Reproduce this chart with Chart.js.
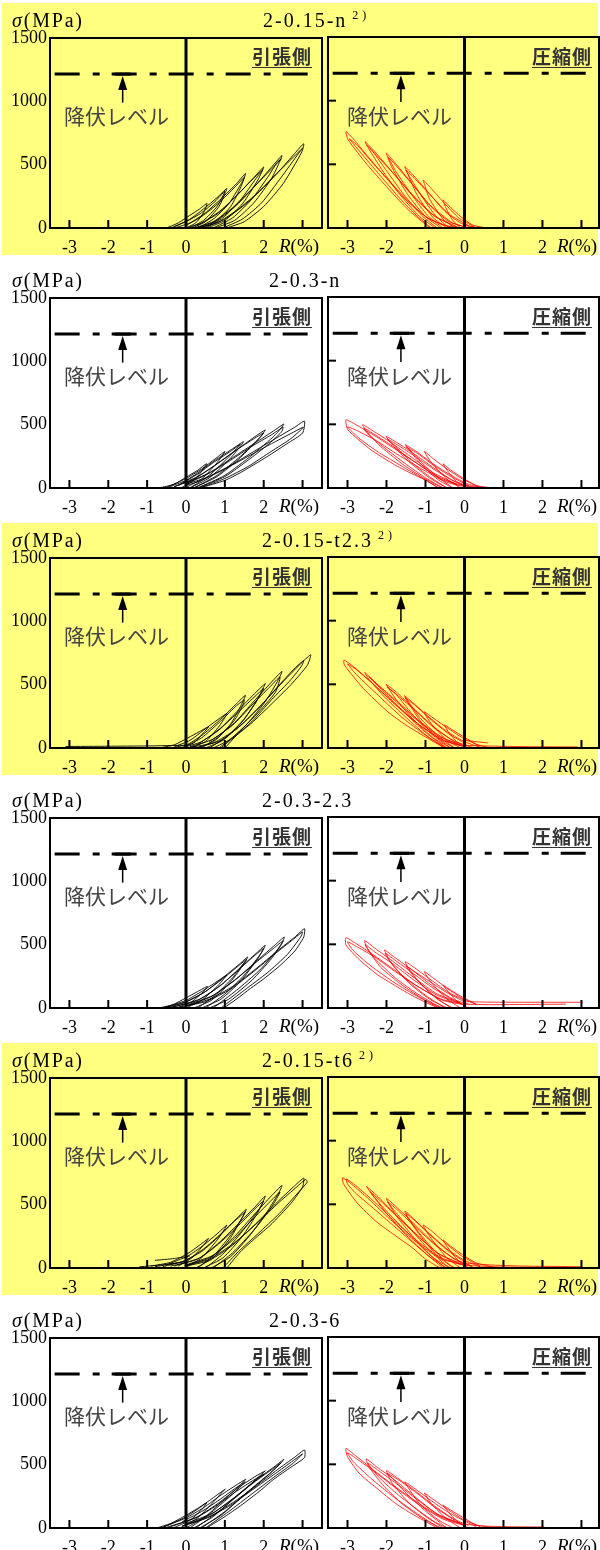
<!DOCTYPE html>
<html>
<head>
<meta charset="utf-8">
<script src="https://cdn.jsdelivr.net/npm/chart.js@4.4.1/dist/chart.umd.min.js"></script>
<style>
  body { margin: 0; background: #fff; }
  #page { position: relative; width: 600px; height: 1550px; overflow: hidden; font-family: "Liberation Serif", serif; }
  .band { position: absolute; left: 2px; width: 596px; height: 252px; background: #ffff80; }
  canvas { position: absolute; }
  .txt { position: absolute; white-space: nowrap; color: #000; }
  .ttl { font-size: 20px; line-height: 22px; letter-spacing: 2px; }
  .ttl .note { font-size: 12px; position: relative; top: -8px; margin-left: 5px; letter-spacing: 4px; }
  .unit { font-size: 20px; line-height: 22px; letter-spacing: 1.8px; }
  .rlab { font-size: 19px; line-height: 22px; }
  .side { font-family: "Noto Sans CJK JP", sans-serif; font-weight: bold; font-size: 19px; line-height: 22px; letter-spacing: 1px; text-decoration: underline; text-underline-offset: 3px; color: #333; }
  .yld { font-family: "Noto Sans CJK JP", sans-serif; font-size: 21px; line-height: 24px; color: #444; }
</style>
</head>
<body>
<div id="page"></div>
<script>
// axes
var xTicks = [-3, -2, -1, 0, 1, 2, 3];
var yTicks = [0, 500, 1000, 1500];
var yieldLevel = 1215;          // 降伏レベル (MPa)
var yieldSpan = [-3.38, 3.45];
var arrowR = -1.63, arrowTail = 990;

var titles = ['2-0.15-n', '2-0.3-n', '2-0.15-t2.3', '2-0.3-2.3', '2-0.15-t6', '2-0.3-6'];
var titleNote = [true, false, true, false, true, false];
var titleLeft = [263, 269, 262, 262, 262, 269];

// loops: flat [R, sigma, R, sigma, ...]
var tension1 = [
  [0.0,0, 0.25,40, 0.45,120, 0.54,194, 0.35,150, 0.1,100, -0.2,40, -0.5,0],
  [0.15,0, 0.5,50, 0.85,170, 1.0,270, 1.05,312, 0.8,240, 0.45,150, 0.1,70, -0.3,10],
  [0.35,0, 0.75,50, 1.15,170, 1.42,330, 1.53,430, 1.3,350, 0.9,230, 0.5,120, 0.1,40, -0.3,0],
  [0.55,0, 1.0,60, 1.45,190, 1.85,380, 2.0,482, 1.75,400, 1.35,270, 0.9,140, 0.4,40, 0,0],
  [0.75,0, 1.25,60, 1.75,200, 2.2,390, 2.42,530, 2.47,573, 2.2,480, 1.8,340, 1.3,180, 0.8,60, 0.3,0],
  [1.05,0, 1.5,50, 2.0,170, 2.5,350, 2.98,600, 3.03,665, 2.8,590, 2.4,450, 2.0,320, 1.5,180, 1.0,70, 0.5,10],
  [0.95,0, 1.45,70, 1.95,200, 2.45,400, 2.9,590, 3.0,630, 2.7,540, 2.3,420, 1.85,280, 1.35,150, 0.8,40, 0.3,0],
  [0.7,0, 1.2,80, 1.7,230, 2.1,400, 2.35,520, 2.45,545, 2.15,450, 1.7,310, 1.2,160, 0.7,50, 0.2,0],
  [0.5,0, 0.95,80, 1.4,220, 1.8,390, 1.98,460, 1.7,380, 1.25,240, 0.8,110, 0.3,20],
  [0.3,0, 0.7,70, 1.1,190, 1.4,340, 1.5,400, 1.25,320, 0.85,200, 0.4,90, 0,20],
  [0.1,0, 0.45,60, 0.8,170, 1.0,290, 0.75,210, 0.4,120, 0,50, -0.4,0]
];
var compression1 = [
  [-0.1,0, -0.3,60, -0.48,160, -0.55,220, -0.35,160, -0.1,90, 0.2,25, 0.55,0],
  [-0.25,0, -0.55,70, -0.9,230, -1.02,340, -1.06,377, -0.85,310, -0.5,190, -0.15,80, 0.25,10],
  [-0.45,0, -0.8,80, -1.2,250, -1.45,420, -1.53,482, -1.3,410, -0.9,270, -0.5,130, -0.1,40, 0.3,0],
  [-0.6,0, -1.0,90, -1.45,260, -1.85,470, -2.0,587, -1.75,500, -1.35,350, -0.9,180, -0.4,50, 0,10],
  [-0.75,0, -1.15,90, -1.65,260, -2.1,450, -2.45,620, -2.55,678, -2.3,600, -1.85,440, -1.35,260, -0.8,100, -0.2,10],
  [-0.88,0, -1.14,63, -1.5,160, -2.0,325, -2.5,500, -2.98,691, -3.04,757, -2.85,700, -2.5,570, -2.0,390, -1.5,220, -1.0,90, -0.5,20, 0,0],
  [-0.85,0, -1.2,90, -1.65,230, -2.1,390, -2.6,570, -2.95,700, -2.75,650, -2.35,510, -1.9,360, -1.4,200, -0.9,70, -0.3,0],
  [-0.7,0, -1.1,100, -1.55,260, -2.0,450, -2.35,600, -2.5,650, -2.25,570, -1.8,420, -1.3,250, -0.75,90, -0.15,0],
  [-0.55,0, -0.95,100, -1.35,260, -1.75,440, -1.95,555, -1.7,470, -1.3,330, -0.85,170, -0.3,40, 0.1,0],
  [-0.4,0, -0.75,100, -1.1,250, -1.4,400, -1.5,455, -1.25,380, -0.85,250, -0.4,110, 0.1,20],
  [0,20, 0.25,8, 0.6,0]
];
var tension2 = [
  [-0.1,5, 0.2,60, 0.45,150, 0.53,192, 0.3,140, 0,85, -0.3,30, -0.7,0],
  [0,5, 0.4,70, 0.8,200, 1.0,288, 0.75,230, 0.4,150, 0,75, -0.5,5],
  [0.1,0, 0.6,80, 1.1,220, 1.4,330, 1.48,366, 1.2,310, 0.8,230, 0.35,130, 0,60, -0.5,0],
  [0.2,0, 0.8,90, 1.4,240, 1.9,400, 2.04,458, 1.75,400, 1.3,300, 0.8,190, 0.3,90, -0.3,10],
  [0.3,0, 1.0,100, 1.7,260, 2.3,420, 2.52,505, 2.25,450, 1.8,360, 1.2,240, 0.6,120, 0,40],
  [0.36,0, 1.0,60, 1.4,121, 2.09,248, 2.6,350, 3.0,434, 3.05,528, 2.8,480, 2.3,390, 1.7,280, 1.1,170, 0.5,80, 0,30],
  [0.35,0, 1.0,75, 1.6,170, 2.2,290, 2.7,390, 3.02,480, 2.7,430, 2.2,350, 1.6,250, 1.0,150, 0.4,60, 0,20],
  [0.3,0, 1.0,90, 1.6,220, 2.1,340, 2.45,440, 2.5,480, 2.2,420, 1.7,330, 1.1,210, 0.5,100, 0,35],
  [0.2,0, 0.8,100, 1.4,250, 1.85,380, 2.0,435, 1.7,380, 1.2,280, 0.7,170, 0.2,70, -0.3,10],
  [0.1,0, 0.6,100, 1.05,230, 1.4,345, 1.15,290, 0.7,200, 0.3,110, -0.2,20]
];
var compression2 = [
  [0.1,0, -0.2,50, -0.45,140, -0.55,190, -0.35,140, -0.05,80, 0.3,20, 0.7,0],
  [-0.1,0, -0.45,70, -0.85,200, -1.03,288, -0.8,230, -0.45,150, -0.05,70, 0.4,5],
  [-0.3,0, -0.7,70, -1.15,200, -1.45,310, -1.52,340, -1.25,290, -0.85,200, -0.4,110, 0.1,30, 0.5,0],
  [-0.45,0, -0.9,80, -1.4,200, -1.85,340, -2.01,405, -1.75,360, -1.3,270, -0.8,160, -0.3,60, 0.2,5],
  [-0.55,0, -1.0,70, -1.6,190, -2.2,340, -2.55,460, -2.61,497, -2.35,450, -1.9,360, -1.35,240, -0.8,120, -0.2,30],
  [-0.68,0, -0.94,53, -1.4,120, -1.8,184, -2.4,300, -2.99,457, -3.04,536, -2.8,500, -2.3,410, -1.8,310, -1.2,190, -0.6,70, 0,15],
  [-0.65,0, -1.1,80, -1.6,170, -2.2,280, -2.7,390, -3.0,480, -2.75,450, -2.25,370, -1.7,260, -1.1,150, -0.5,50, 0,10],
  [-0.55,0, -1.05,90, -1.6,210, -2.15,340, -2.5,430, -2.58,470, -2.3,420, -1.85,330, -1.3,210, -0.75,100, -0.15,20],
  [-0.45,0, -0.9,90, -1.35,200, -1.75,320, -1.98,385, -1.7,335, -1.25,245, -0.75,140, -0.25,50, 0.2,0],
  [-0.3,0, -0.7,90, -1.1,200, -1.4,300, -1.5,325, -1.2,270, -0.8,180, -0.35,90, 0.1,20],
  [0,20, 0.4,6, 0.93,2]
];
var tension3 = [
  [-0.1,5, 0.2,40, 0.45,120, 0.58,167, 0.35,130, 0.05,80, -0.3,25, -0.6,5],
  [0.1,0, 0.5,50, 0.85,170, 1.0,240, 1.05,272, 0.8,220, 0.45,140, 0.1,60, -0.3,10],
  [0.3,0, 0.75,60, 1.15,190, 1.42,340, 1.53,416, 1.3,350, 0.9,230, 0.45,110, 0.05,30, -0.3,5],
  [0.5,0, 0.95,60, 1.4,190, 1.8,360, 1.98,470, 2.04,508, 1.8,440, 1.35,300, 0.9,160, 0.4,50, 0,10],
  [0.7,0, 1.15,70, 1.6,200, 2.05,370, 2.38,540, 2.47,605, 2.2,520, 1.75,370, 1.25,200, 0.7,70, 0.1,10],
  [0.9,0, 1.25,90, 1.7,210, 2.2,380, 2.7,540, 2.98,650, 3.03,691, 2.8,630, 2.35,480, 1.85,310, 1.3,150, 0.7,40, 0.1,5],
  [1.0,0, 1.31,102, 1.7,200, 2.17,338, 2.7,500, 3.12,652, 3.21,736, 3.0,680, 2.55,540, 2.0,360, 1.45,190, 0.9,60, 0.3,5],
  [0.85,0, 1.3,110, 1.8,260, 2.3,440, 2.42,560, 2.15,480, 1.7,340, 1.2,180, 0.6,50],
  [0.6,0, 1.05,90, 1.5,230, 1.85,390, 2.0,470, 1.75,400, 1.3,270, 0.8,130, 0.3,30],
  [0.4,0, 0.85,90, 1.25,220, 1.45,330, 1.5,380, 1.25,320, 0.85,200, 0.4,80, 0,15],
  [-3.1,12, -2.0,14, -1.0,16, 0,22]
];
var compression3 = [
  [0.1,0, -0.2,50, -0.42,130, -0.51,181, -0.3,140, 0,85, 0.3,30, 0.6,5],
  [-0.1,0, -0.45,60, -0.85,190, -1.0,260, -1.03,285, -0.8,235, -0.45,160, -0.05,80, 0.4,15],
  [-0.25,0, -0.65,70, -1.1,200, -1.45,360, -1.54,411, -1.3,350, -0.9,240, -0.45,130, 0,50, 0.4,5],
  [-0.35,0, -0.8,80, -1.3,220, -1.75,380, -1.95,470, -2.01,500, -1.75,440, -1.3,310, -0.8,170, -0.3,60, 0.2,5],
  [-0.45,0, -0.9,80, -1.5,240, -2.05,400, -2.45,540, -2.56,594, -2.3,520, -1.85,390, -1.3,240, -0.7,100, -0.1,20],
  [-0.51,0, -0.94,76, -1.5,180, -1.97,285, -2.6,470, -3.08,652, -3.09,691, -2.85,640, -2.4,520, -1.85,360, -1.2,190, -0.6,70, 0,10],
  [-0.5,0, -1.0,100, -1.6,240, -2.2,410, -2.75,570, -3.0,660, -2.75,610, -2.3,490, -1.75,340, -1.15,180, -0.55,60, 0,10],
  [-0.45,0, -0.95,110, -1.55,280, -2.1,450, -2.45,560, -2.2,490, -1.7,360, -1.15,210, -0.55,80, 0,15],
  [-0.35,0, -0.85,110, -1.35,270, -1.75,420, -1.98,480, -1.7,410, -1.25,290, -0.75,150, -0.2,40],
  [-0.25,0, -0.7,100, -1.15,240, -1.45,370, -1.52,395, -1.25,330, -0.85,220, -0.4,110, 0.05,30],
  [0,60, 0.3,50, 0.6,40],
  [0,20, 0.8,14, 1.8,10, 2.9,9]
];
var tension4 = [
  [-0.2,5, 0.15,50, 0.45,130, 0.55,170, 0.3,130, 0,80, -0.35,25, -0.7,0],
  [0.0,0, 0.4,60, 0.8,170, 1.0,240, 1.05,259, 0.8,210, 0.4,130, 0,60, -0.6,0],
  [0.2,0, 0.65,60, 1.1,190, 1.45,330, 1.59,403, 1.35,340, 0.95,240, 0.5,130, 0,50, -0.6,0],
  [0.4,0, 0.9,70, 1.4,210, 1.85,390, 2.04,495, 1.8,430, 1.4,320, 0.9,180, 0.35,70, -0.4,0],
  [0.6,0, 1.1,70, 1.7,220, 2.2,390, 2.45,500, 2.53,560, 2.3,500, 1.85,380, 1.3,230, 0.7,100, 0,20],
  [0.97,0, 1.3,70, 1.66,155, 2.0,230, 2.43,338, 2.8,450, 3.03,560, 3.05,626, 2.8,560, 2.35,450, 1.8,310, 1.2,170, 0.6,70, 0,15],
  [0.9,0, 1.5,140, 2.1,280, 2.6,420, 2.95,560, 3.0,600, 2.75,540, 2.3,430, 1.75,290, 1.15,150, 0.5,50, -0.2,5],
  [0.7,0, 1.3,140, 1.9,300, 2.35,460, 2.5,530, 2.25,470, 1.8,360, 1.25,220, 0.65,90, 0,15],
  [0.5,0, 1.0,110, 1.5,260, 1.9,420, 2.0,470, 1.75,410, 1.35,300, 0.85,170, 0.3,60, -0.4,5],
  [0.3,0, 0.75,100, 1.2,240, 1.5,360, 1.56,385, 1.3,320, 0.9,220, 0.45,120, -0.05,40, -0.6,0]
];
var compression4 = [
  [0.1,0, -0.2,55, -0.45,140, -0.55,180, -0.35,140, -0.05,85, 0.3,30],
  [-0.1,0, -0.45,70, -0.85,200, -1.03,285, -0.8,235, -0.45,155, -0.05,75, 0.3,30],
  [-0.3,0, -0.7,70, -1.15,200, -1.45,320, -1.52,364, -1.3,320, -0.9,230, -0.45,130, 0,60],
  [-0.45,0, -0.9,70, -1.4,190, -1.85,340, -2.0,420, -2.05,456, -1.8,400, -1.35,300, -0.85,180, -0.3,70, 0.1,30],
  [-0.55,0, -1.0,60, -1.6,180, -2.15,320, -2.5,470, -2.56,529, -2.3,470, -1.85,370, -1.3,240, -0.7,110, -0.1,40],
  [-0.68,0, -1.0,45, -1.37,102, -1.8,180, -2.22,259, -2.7,380, -3.04,495, -3.04,552, -2.8,510, -2.35,420, -1.8,300, -1.2,170, -0.6,70, 0,30],
  [-0.65,0, -1.2,90, -1.8,200, -2.4,330, -2.85,450, -3.0,520, -2.75,480, -2.3,400, -1.75,280, -1.15,160, -0.55,60, 0,25],
  [-0.6,0, -1.15,100, -1.75,230, -2.3,390, -2.55,500, -2.3,440, -1.85,350, -1.3,220, -0.7,100, -0.1,35],
  [-0.5,0, -1.0,100, -1.55,240, -1.95,380, -2.03,430, -1.8,380, -1.35,280, -0.85,165, -0.3,65],
  [-0.35,0, -0.8,100, -1.25,230, -1.5,330, -1.3,290, -0.9,210, -0.45,120, 0,50],
  [0,50, 0.6,46, 1.5,45, 2.4,45, 3.03,45],
  [0,30, 0.7,26, 1.6,28, 2.6,30]
];
var tension5 = [
  [-0.2,15, 0.15,80, 0.45,180, 0.58,233, 0.35,180, 0.05,115, -0.4,45, -0.9,15],
  [0.0,5, 0.4,80, 0.8,220, 1.0,310, 1.05,338, 0.8,270, 0.45,180, 0.05,95, -0.5,25],
  [0.25,0, 0.7,80, 1.15,240, 1.45,400, 1.55,463, 1.3,390, 0.9,270, 0.45,150, 0,60, -0.6,10],
  [0.45,0, 0.95,80, 1.45,250, 1.85,440, 2.04,568, 1.8,490, 1.35,350, 0.85,200, 0.35,80, -0.3,15],
  [0.65,0, 1.15,90, 1.65,260, 2.1,450, 2.4,600, 2.47,652, 2.2,570, 1.75,420, 1.25,250, 0.7,100, 0,25],
  [1.05,0, 1.4,128, 1.8,240, 2.17,338, 2.7,510, 3.0,640, 3.03,709, 2.8,650, 2.35,520, 1.8,350, 1.2,180, 0.6,60, 0,15],
  [0.95,0, 1.35,130, 1.85,270, 2.4,430, 2.9,600, 3.12,678, 3.08,700, 2.85,640, 2.4,520, 1.85,360, 1.25,200, 0.6,70, 0,20],
  [0.7,0, 1.2,120, 1.75,300, 2.2,480, 2.42,600, 2.15,520, 1.7,380, 1.2,220, 0.6,80, 0,20],
  [0.5,0, 0.95,110, 1.45,290, 1.85,450, 2.0,530, 1.75,460, 1.3,320, 0.8,180, 0.3,70, -0.4,15],
  [0.3,0, 0.75,110, 1.2,280, 1.45,400, 1.52,440, 1.25,370, 0.85,250, 0.4,130, -0.1,50, -0.8,10],
  [-1.2,10, -0.6,25, 0,50],
  [-0.8,60, -0.3,75, 0.1,95]
];
var compression5 = [
  [0.1,0, -0.2,70, -0.45,170, -0.55,220, -0.35,170, -0.05,105, 0.3,40, 0.7,10],
  [-0.1,0, -0.45,80, -0.85,230, -1.0,300, -1.06,338, -0.8,280, -0.45,185, -0.05,90, 0.4,15],
  [-0.25,0, -0.65,80, -1.1,240, -1.45,390, -1.53,448, -1.3,385, -0.9,270, -0.45,150, 0,60, 0.4,10],
  [-0.35,0, -0.8,80, -1.3,240, -1.75,410, -1.95,510, -2.0,547, -1.75,480, -1.3,350, -0.8,200, -0.3,80, 0.2,15],
  [-0.45,0, -0.9,90, -1.5,260, -2.0,430, -2.4,590, -2.51,639, -2.25,570, -1.8,430, -1.25,270, -0.7,120, -0.1,30],
  [-0.63,0, -1.0,70, -1.32,155, -1.8,260, -2.26,364, -2.75,510, -3.1,660, -3.13,709, -2.9,660, -2.45,540, -1.9,380, -1.3,220, -0.65,80, 0,20],
  [-0.55,0, -1.1,140, -1.7,300, -2.3,460, -2.8,590, -3.0,660, -3.03,699, -2.8,650, -2.35,530, -1.8,370, -1.2,210, -0.6,80, 0,20],
  [-0.5,0, -1.05,150, -1.6,320, -2.1,480, -2.42,600, -2.2,540, -1.75,410, -1.2,250, -0.6,100, 0,25],
  [-0.4,0, -0.9,140, -1.4,310, -1.8,450, -1.97,520, -1.7,450, -1.25,320, -0.75,180, -0.2,60, 0.2,10],
  [-0.3,0, -0.75,130, -1.2,290, -1.45,400, -1.5,430, -1.25,365, -0.85,250, -0.4,130, 0.05,40],
  [0,40, 0.6,25, 1.5,15, 2.4,12, 3.0,10],
  [0,20, 1.0,8, 2.0,5, 2.8,5]
];
var tension6 = [
  [-0.3,5, 0.1,60, 0.42,150, 0.53,200, 0.3,155, 0,100, -0.4,35, -0.76,0],
  [-0.15,0, 0.3,80, 0.75,220, 0.95,290, 1.01,307, 0.75,250, 0.35,160, -0.05,80, -0.6,5],
  [0.0,0, 0.5,90, 1.0,230, 1.4,340, 1.54,385, 1.3,340, 0.9,260, 0.45,160, 0,80, -0.6,5],
  [0.2,0, 0.7,90, 1.25,240, 1.75,370, 2.0,440, 2.04,451, 1.8,410, 1.35,320, 0.85,200, 0.3,90, -0.4,10],
  [0.35,0, 0.9,100, 1.5,260, 2.05,400, 2.4,500, 2.52,543, 2.3,490, 1.85,390, 1.3,250, 0.7,120, 0,35],
  [0.53,0, 1.0,90, 1.4,175, 1.85,280, 2.26,385, 2.7,480, 3.05,556, 3.05,616, 2.8,560, 2.35,460, 1.8,330, 1.2,200, 0.6,90, 0,25],
  [0.5,0, 1.1,130, 1.7,270, 2.3,410, 2.75,510, 3.0,585, 2.75,530, 2.3,430, 1.75,310, 1.15,180, 0.55,80, -0.1,15],
  [0.4,0, 1.0,130, 1.6,290, 2.15,430, 2.45,515, 2.2,460, 1.75,360, 1.2,230, 0.6,100, -0.1,15],
  [0.25,0, 0.8,120, 1.35,260, 1.8,380, 2.0,425, 1.75,380, 1.3,290, 0.8,180, 0.25,80, -0.5,5],
  [0.1,0, 0.6,110, 1.1,240, 1.45,340, 1.52,365, 1.25,310, 0.85,220, 0.4,130, -0.1,50]
];
var compression6 = [
  [0.1,0, -0.2,55, -0.45,140, -0.55,180, -0.35,140, -0.05,85, 0.3,25, 0.7,5],
  [-0.1,0, -0.45,70, -0.85,190, -1.0,260, -1.03,275, -0.8,225, -0.45,150, -0.05,70, 0.4,10],
  [-0.3,0, -0.7,70, -1.15,190, -1.45,320, -1.53,362, -1.3,315, -0.9,225, -0.45,130, 0,55, 0.3,10],
  [-0.45,0, -0.9,70, -1.4,190, -1.85,350, -2.0,450, -1.75,400, -1.3,300, -0.8,180, -0.3,75, 0.1,20],
  [-0.6,0, -1.05,70, -1.6,190, -2.1,340, -2.45,480, -2.52,543, -2.25,480, -1.8,380, -1.25,240, -0.7,110, -0.1,35],
  [-0.7,0, -1.05,60, -1.4,120, -1.8,200, -2.2,300, -2.7,430, -3.0,560, -3.04,625, -2.8,570, -2.35,460, -1.8,330, -1.2,200, -0.6,85, 0,25],
  [-0.65,0, -1.2,110, -1.8,240, -2.4,390, -2.85,520, -3.0,590, -2.75,540, -2.3,440, -1.75,310, -1.15,180, -0.55,70, 0,20],
  [-0.55,0, -1.1,120, -1.7,260, -2.2,400, -2.48,510, -2.2,450, -1.75,350, -1.2,220, -0.65,100, -0.05,30],
  [-0.45,0, -0.95,120, -1.45,260, -1.85,390, -1.98,430, -1.7,380, -1.25,280, -0.75,160, -0.25,60],
  [0,30, 0.5,15, 1.2,10, 2.05,8]
];

var tensionSets = [tension1, tension2, tension3, tension4, tension5, tension6];
var compressionSets = [compression1, compression2, compression3, compression4, compression5, compression6];

function toPoints(flat) {
    var pts = [];
    for (var i = 0; i < flat.length; i += 2) {
        pts.push({x: flat[i], y: flat[i + 1]});
    }
    return pts;
}

// frame, thick zero line, inward ticks and the arrow to the yield line
var framePlugin = {
    id: 'frame',
    afterDatasetsDraw: function (chart, args, opts) {
        var ctx = chart.ctx, a = chart.chartArea;
        var x = chart.scales.x, y = chart.scales.y;
        ctx.save();
        ctx.strokeStyle = '#000';
        ctx.fillStyle = '#000';
        var x0 = x.getPixelForValue(0);
        ctx.lineWidth = 3;
        ctx.beginPath();
        ctx.moveTo(x0, a.top);
        ctx.lineTo(x0, a.bottom);
        ctx.stroke();

        ctx.lineWidth = 2;
        xTicks.forEach(function (v) {
            if (v === 0) return;
            var px = x.getPixelForValue(v);
            ctx.beginPath();
            ctx.moveTo(px, a.bottom);
            ctx.lineTo(px, a.bottom - 8);
            ctx.stroke();
        });
        if (opts.side === 'right') {
            yTicks.forEach(function (v) {
                if (v === yTicks[0] || v === yTicks[yTicks.length - 1]) return;
                var py = y.getPixelForValue(v);
                ctx.beginPath();
                ctx.moveTo(a.left, py);
                ctx.lineTo(a.left + 8, py);
                ctx.stroke();
            });
        }
        ctx.strokeRect(a.left, a.top, a.right - a.left, a.bottom - a.top);

        var ax = x.getPixelForValue(arrowR);
        var ay = y.getPixelForValue(yieldLevel);
        var ab = y.getPixelForValue(arrowTail);
        ctx.fillRect(ax - 8, ay - 1.5, 16, 3);
        ctx.beginPath();
        ctx.moveTo(ax, ay + 2);
        ctx.lineTo(ax - 4.5, ay + 16);
        ctx.lineTo(ax + 4.5, ay + 16);
        ctx.closePath();
        ctx.fill();
        ctx.lineWidth = 1.5;
        ctx.beginPath();
        ctx.moveTo(ax, ay + 15);
        ctx.lineTo(ax, ab);
        ctx.stroke();
        ctx.restore();
    }
};

function makePanel(canvas, loops, color, side) {
    var left = side === 'left';
    var datasets = loops.map(function (l) {
        return {
            data: toPoints(l),
            showLine: true,
            borderColor: color,
            borderWidth: left ? 0.9 : 0.8,
            pointRadius: 0,
            tension: 0.2,
            fill: false
        };
    });
    datasets.push({
        data: [{x: yieldSpan[0], y: yieldLevel}, {x: yieldSpan[1], y: yieldLevel}],
        showLine: true,
        borderColor: '#000',
        borderWidth: 3,
        borderDash: [25, 13, 7, 12],
        pointRadius: 0
    });
    var font = {family: 'Liberation Serif', size: 18, lineHeight: 1};
    new Chart(canvas, {
        type: 'scatter',
        data: {datasets: datasets},
        plugins: [framePlugin],
        options: {
            responsive: false,
            animation: false,
            devicePixelRatio: 1,
            events: [],
            layout: {padding: left ? {top: 11, right: 4, left: 0, bottom: 0} : {top: 11, right: 1, left: 2, bottom: 0}},
            plugins: {legend: {display: false}, tooltip: {enabled: false}, frame: {side: side}},
            scales: {
                x: {
                    type: 'linear',
                    min: -3.5,
                    max: left ? 3.5 : 3.45,
                    afterBuildTicks: function (s) { s.ticks = xTicks.map(function (v) { return {value: v}; }); },
                    afterFit: function (s) { s.height = 28; },
                    ticks: {
                        autoSkip: false, maxRotation: 0, padding: 11, color: '#000', font: font,
                        callback: function (v) { return v === 3 ? '' : String(v); }
                    },
                    grid: {display: false, drawTicks: false},
                    border: {display: false}
                },
                y: {
                    type: 'linear',
                    display: left,
                    min: 0,
                    max: 1500,
                    afterBuildTicks: function (s) { s.ticks = yTicks.map(function (v) { return {value: v}; }); },
                    afterFit: function (s) { s.width = left ? 50 : 0; },
                    ticks: {padding: 3, color: '#000', font: font, callback: function (v) { return String(v); }},
                    grid: {display: false, drawTicks: false},
                    border: {display: false}
                }
            }
        }
    });
}

var page = document.getElementById('page');
function addEl(tag, cls, left, top, html) {
    var el = document.createElement(tag);
    if (cls) el.className = cls;
    el.style.left = left + 'px';
    el.style.top = top + 'px';
    if (html) el.innerHTML = html;
    page.appendChild(el);
    return el;
}

titles.forEach(function (title, i) {
    var T = i * 260;
    if (i % 2 === 0) addEl('div', 'band', 2, T + 3);

    var cl = addEl('canvas', '', 0, T + 26);
    cl.width = 326; cl.height = 230;
    var cr = addEl('canvas', '', 326, T + 26);
    cr.width = 274; cr.height = 230;
    makePanel(cl, tensionSets[i], '#000', 'left');
    makePanel(cr, compressionSets[i], '#ff0000', 'right');

    addEl('div', 'txt unit', 12, T + 9, '<i>σ</i>(MPa)');
    addEl('div', 'txt ttl', titleLeft[i], T + 9, title + (titleNote[i] ? '<span class="note">2)</span>' : ''));
    addEl('div', 'txt side', 252, T + 45, '引張側');
    addEl('div', 'txt side', 532, T + 45, '圧縮側');
    addEl('div', 'txt yld', 64, T + 103, '降伏レベル');
    addEl('div', 'txt yld', 347, T + 103, '降伏レベル');
    addEl('div', 'txt rlab', 279, T + 235, '<i>R</i>(%)');
    addEl('div', 'txt rlab', 557, T + 235, '<i>R</i>(%)');
});
</script>
</body>
</html>
